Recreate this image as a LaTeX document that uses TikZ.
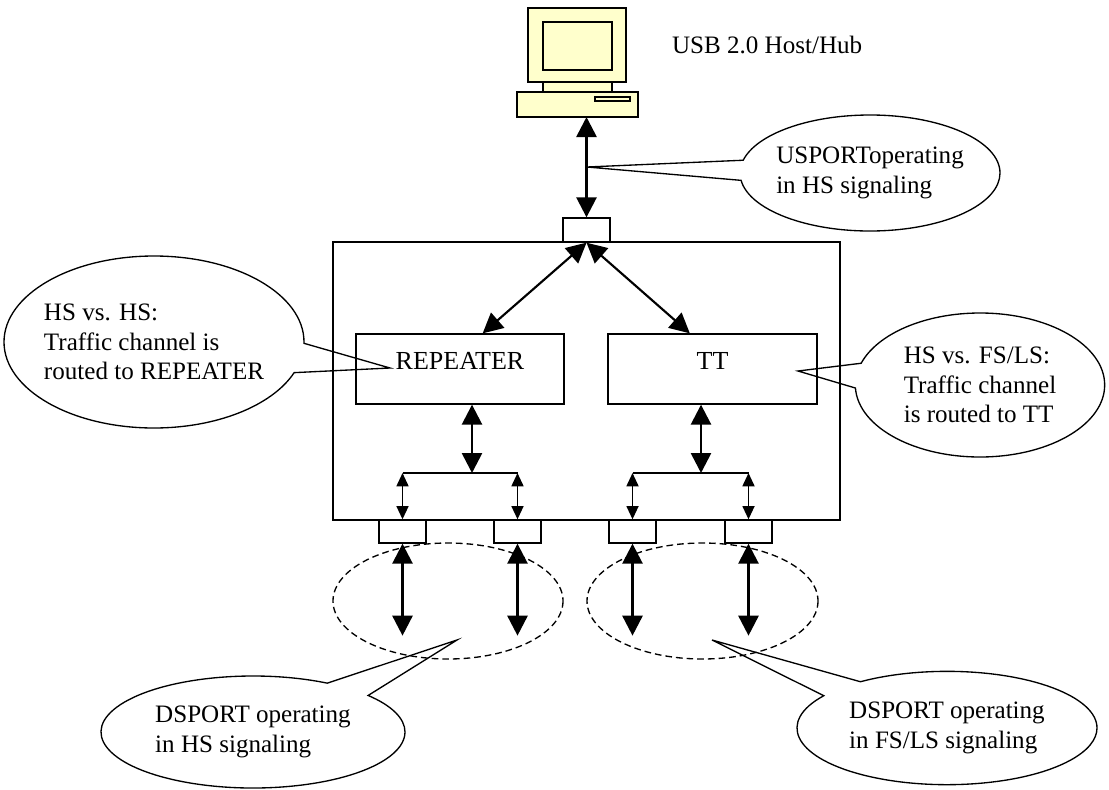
\documentclass[tikz,border=0pt]{standalone}
\usepackage{fontspec}
\setmainfont{Liberation Serif}
\usetikzlibrary{arrows.meta,shapes.callouts,fit}
\definecolor{pcyellow}{RGB}{255,255,204}

\begin{document}
\begin{tikzpicture}[x=0.75pt,y=-0.75pt,line width=1pt,
    font=\fontsize{18.8}{22}\selectfont,
    box/.style={draw,inner sep=0pt,fit={#1}},
    big/.style={line width=2pt,{Triangle[length=15pt,width=15pt]}-{Triangle[length=15pt,width=15pt]}},
    small/.style={line width=1.3pt,{Triangle[length=10pt,width=9pt]}-{Triangle[length=10pt,width=9pt]}},
    bubble/.style={draw,ellipse callout,inner sep=0pt,inner xsep=-10pt,align=left,
        callout pointer arc=20,callout absolute pointer={#1}},
    group/.style={dash pattern=on 5pt off 3pt},
    pc/.style={draw,fill=pcyellow}]
    \useasboundingbox (0,0) rectangle (1109,789);

    % host computer
    \draw[pc] (528,8) rectangle (626,82);
    \draw[pc] (543,22) rectangle (612,70);
    \draw[pc] (543,82) rectangle (612,92);
    \draw[pc] (517,92) rectangle (638,117);
    \draw[pc] (595,97) rectangle (630,101);
    \node[anchor=base west] (host) at (667,53) {USB 2.0 Host/Hub};

    % hub and its blocks
    \node[box={(333,242) (840,520)}] (hub) {};
    \node[box={(563,218) (610,242)}] (usport) {};
    \node[box={(356,334) (564,404)},font=\fontsize{19.5}{22}\selectfont] (repeater) {REPEATER};
    \node[box={(608,334) (817,404)},font=\fontsize{19.5}{22}\selectfont] (tt) {TT};
    \node[box={(379,520) (426,543)}] (dp1) {};
    \node[box={(494,520) (541,543)}] (dp2) {};
    \node[box={(609,520) (656,543)}] (dp3) {};
    \node[box={(725,520) (772,543)}] (dp4) {};

    \coordinate (pcbase) at (587,117);
    \coordinate (jA) at (472,473);
    \coordinate (jB) at (701,473);

    \draw[big] (usport.north |- pcbase) -- (usport.north);
    \draw[big,line width=1.6pt] ([xshift=17pt]repeater.north) -- (usport.south);
    \draw[big,line width=1.6pt] ([xshift=-17pt]tt.north) -- (usport.south);
    \draw[big] (repeater.south -| jA) -- (jA);
    \draw[big] (tt.south -| jB) -- (jB);
    \draw[line width=1.5pt] (dp1.north |- jA) -- (dp2.north |- jA);
    \draw[line width=1.5pt] (dp3.north |- jB) -- (dp4.north |- jB);
    \draw[small] (dp1.north |- jA) -- (dp1.north);
    \draw[small] (dp2.north |- jA) -- (dp2.north);
    \draw[small] (dp3.north |- jB) -- (dp3.north);
    \draw[small] (dp4.north |- jB) -- (dp4.north);
    \foreach \p in {dp1,dp2,dp3,dp4}
        \draw[big] (\p.south) -- ++(0,92);

    % downstream groups
    \draw[group] (448,601) ellipse [x radius=115, y radius=58];
    \draw[group] (702.5,601) ellipse [x radius=115.5, y radius=58];

    % notes
    \coordinate (tipUS) at (587,167);
    \coordinate (tipRep) at (390,368);
    \coordinate (tipTT) at (798,371);
    \coordinate (tipHS) at (457,640);
    \coordinate (tipFL) at (712,640);
    \node[bubble={(tipUS)},minimum width=195pt,minimum height=87pt] (usnote) at (870,173)
        {USPORToperating\\in HS signaling};
    \node[bubble={(tipRep)},minimum width=225pt,minimum height=129pt] (repnote) at (154,342)
        {HS vs. HS:\\Traffic channel is\\routed to REPEATER};
    \node[bubble={(tipTT)},minimum width=187pt,minimum height=108pt] (ttnote) at (980,385)
        {HS vs. FS/LS:\\Traffic channel\\is routed to TT};
    \node[bubble={(tipHS)},minimum width=228pt,minimum height=84pt] (hsnote) at (253,732)
        {DSPORT operating\\in HS signaling};
    \node[bubble={(tipFL)},minimum width=225pt,minimum height=85pt] (flnote) at (947,728)
        {DSPORT operating\\in FS/LS signaling};
\end{tikzpicture}
\end{document}
